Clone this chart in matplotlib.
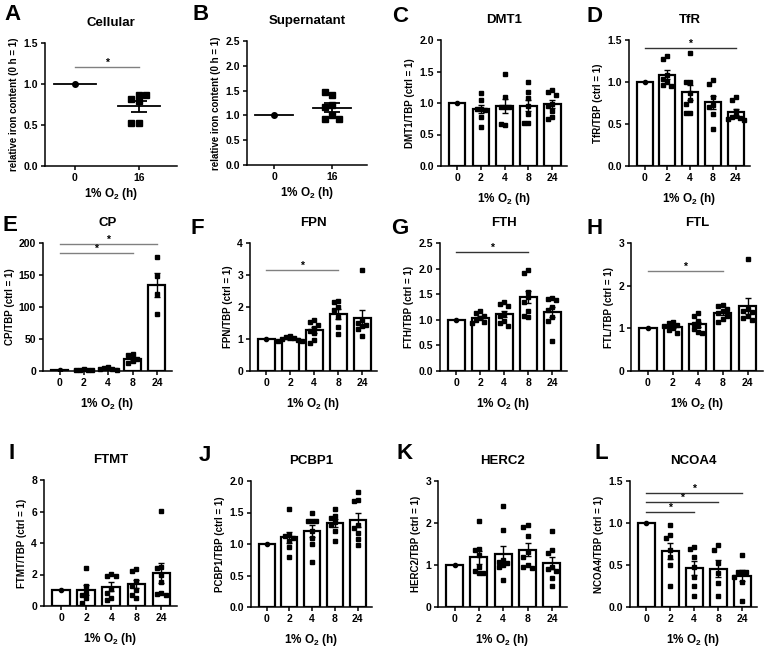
import numpy as np
import matplotlib.pyplot as plt

plt.rcParams['font.family'] = ['Liberation Sans', 'DejaVu Sans']
plt.rcParams['font.weight'] = 'bold'
plt.rcParams['axes.labelweight'] = 'bold'
plt.rcParams['axes.titleweight'] = 'bold'
plt.rcParams['mathtext.fontset'] = 'custom'
plt.rcParams['mathtext.bf'] = 'Liberation Sans:bold'
plt.rcParams['mathtext.rm'] = 'Liberation Sans:bold'

# ---- data ----
iron_hours = ['0', '16']
cellular = [[1.0], [0.86, 0.82, 0.79, 0.86, 0.52, 0.52]]
supernatant = [[1.0], [1.42, 1.47, 1.20, 1.16, 1.01, 0.92, 0.92]]

hours = ['0', '2', '4', '8', '24']
dmt1 = [[1.0], [1.16, 1.05, 0.91, 0.91, 0.89, 0.78, 0.62],
        [1.46, 1.10, 0.93, 0.93, 0.93, 0.65, 0.67],
        [1.33, 1.17, 1.08, 0.95, 0.83, 0.68, 0.68],
        [1.20, 1.18, 1.13, 0.98, 0.95, 0.88, 0.78, 0.74]]
tfr = [[1.0], [1.31, 1.27, 1.08, 1.04, 1.00, 0.97, 0.95],
       [1.35, 1.00, 1.00, 0.87, 0.78, 0.74, 0.63, 0.63],
       [1.02, 0.98, 0.82, 0.73, 0.70, 0.62, 0.44],
       [0.82, 0.79, 0.66, 0.60, 0.58, 0.57, 0.56, 0.55]]
cp = [[1.0], [2.5, 2.0, 1.5, 1.0, 0.8],
      [5.5, 4.5, 3.5, 2.5, 2.0],
      [26, 25, 19, 15, 12],
      [178, 149, 120, 89]]
fpn = [[1.0], [1.08, 1.05, 1.02, 1.00, 0.97, 0.95, 0.93],
       [1.58, 1.53, 1.45, 1.35, 1.25, 1.18, 0.97, 0.88],
       [2.20, 2.15, 2.00, 1.90, 1.70, 1.38, 1.15],
       [3.17, 1.60, 1.50, 1.45, 1.40, 1.30, 1.10]]
fth = [[1.0], [1.17, 1.13, 1.08, 1.03, 1.00, 0.95, 0.93],
       [1.35, 1.30, 1.27, 1.12, 1.08, 0.97, 0.93, 0.88],
       [1.98, 1.92, 1.55, 1.45, 1.35, 1.18, 1.08, 1.05],
       [1.42, 1.40, 1.38, 1.25, 1.20, 1.05, 0.97, 0.58]]
ftl = [[1.0], [1.15, 1.12, 1.08, 1.05, 1.00, 0.95, 0.88],
       [1.35, 1.28, 1.18, 1.10, 1.05, 0.98, 0.92, 0.90],
       [1.55, 1.52, 1.45, 1.40, 1.35, 1.30, 1.22, 1.15],
       [2.62, 1.45, 1.40, 1.38, 1.30, 1.25, 1.20]]
ftmt = [[1.0], [2.4, 1.3, 0.85, 0.7, 0.5, 0.2],
        [2.05, 1.9, 1.9, 1.1, 0.8, 0.5, 0.4],
        [2.35, 2.25, 1.6, 1.3, 1.0, 0.7, 0.5],
        [6.05, 2.45, 2.4, 2.0, 1.5, 0.85, 0.75, 0.7]]
pcbp1 = [[1.0], [1.56, 1.15, 1.12, 1.10, 1.05, 0.95, 0.80],
         [1.50, 1.37, 1.37, 1.37, 1.20, 1.10, 1.00, 0.71],
         [1.55, 1.45, 1.42, 1.35, 1.30, 1.20, 1.05],
         [1.82, 1.70, 1.68, 1.30, 1.25, 1.18, 1.08, 0.99]]
herc2 = [[1.0], [2.05, 1.38, 1.35, 1.25, 0.95, 0.85, 0.82, 0.80],
         [2.40, 1.83, 1.12, 1.08, 1.05, 1.00, 0.95, 0.65],
         [1.95, 1.90, 1.70, 1.30, 1.20, 1.00, 0.95, 0.93],
         [1.80, 1.35, 1.28, 0.95, 0.90, 0.85, 0.70, 0.50]]
ncoa4 = [[1.0], [0.98, 0.86, 0.82, 0.68, 0.60, 0.50, 0.25],
         [0.71, 0.69, 0.60, 0.48, 0.36, 0.25, 0.13],
         [0.74, 0.68, 0.52, 0.40, 0.28, 0.13],
         [0.62, 0.42, 0.42, 0.42, 0.36, 0.30, 0.075]]

W, H = 765, 648
fig = plt.figure(figsize=(W / 100, H / 100), dpi=100)


def box(l, r, t, b):
    return [l / W, 1 - b / H, (r - l) / W, (b - t) / H]


def swarm(values, yrange, step, gap=0.04):
    # simple deterministic beeswarm so squares don't sit on top of each other
    placed, xs = [], []
    for v in values:
        for dx in [0, -step, step, -2 * step, 2 * step, -3 * step, 3 * step]:
            if all(abs(dx - px) > 0.8 * step or abs(v - py) > gap * yrange for px, py in placed):
                break
        placed.append((dx, v))
        xs.append(dx)
    return np.array(xs)


def sem(g):
    return np.std(g, ddof=1) / np.sqrt(len(g)) if len(g) > 1 else 0.0


def style(ax, ymax, ystep, fmt):
    ax.spines['top'].set_visible(False)
    ax.spines['right'].set_visible(False)
    for s in ['left', 'bottom']:
        ax.spines[s].set_linewidth(1.1)
    ax.set_ylim(0, ymax)
    ticks = np.arange(0, ymax + ystep / 2, ystep)
    ax.set_yticks(ticks)
    ax.set_yticklabels([fmt % t for t in ticks])
    ax.tick_params(width=1.1, length=3, labelsize=7.5, pad=2)


def add_sig(ax, sigs, color, ymax):
    for i0, i1, y in sigs:
        ax.plot([i0, i1], [y, y], color=color, lw=1, clip_on=False)
        ax.text((i0 + i1) / 2, y - 0.005 * ymax, '*', ha='center', va='bottom', fontsize=7.5, color='black')


def letter(x, y, s):
    fig.text(x / W, 1 - y / H, s, fontsize=16, fontweight='bold', va='top', ha='left')


def bar_panel(pos, title, ylabel, groups, ymax, ystep, fmt='%.1f', sigs=(), sig_color='#808080'):
    ax = fig.add_axes(box(*pos))
    x = np.arange(len(groups))
    means = [np.mean(g) for g in groups]
    ax.bar(x, means, width=0.7, color='white', edgecolor='black', linewidth=1.6, zorder=1)
    for i, g in enumerate(groups):
        if len(g) == 1:
            ax.plot(i, g[0], 'o', ms=3, color='black', zorder=3)
        else:
            ax.errorbar(i, means[i], yerr=sem(g), color='black', lw=1, capsize=2.5, capthick=1, zorder=2)
            ax.plot(i + swarm(g, ymax, 0.17), g, 's', ms=3.4, color='black', zorder=3, clip_on=False)
    ax.set_xlim(-0.68, len(groups) - 0.38)
    ax.set_xticks(x)
    ax.set_xticklabels(hours)
    style(ax, ymax, ystep, fmt)
    add_sig(ax, sigs, sig_color, ymax)
    ax.set_title(title, fontsize=9.5, pad=12)
    ax.set_ylabel(ylabel, fontsize=7, labelpad=3)
    ax.set_xlabel(r'1% O$_\mathbf{2}$ (h)', fontsize=8.5, labelpad=6)
    return ax


def dot_panel(pos, title, groups, ymax, ystep, sigs=()):
    ax = fig.add_axes(box(*pos))
    for i, g in enumerate(groups):
        m = np.mean(g)
        ax.plot([i - 0.33, i + 0.33], [m, m], color='black', lw=1.3, zorder=2)
        if len(g) == 1:
            ax.plot(i, g[0], 'o', ms=4, color='black', zorder=3)
        else:
            s = sem(g)
            ax.errorbar(i, m, yerr=s, color='black', lw=1.3, capsize=6, capthick=1.3, zorder=2)
            ax.plot(i + swarm(g, ymax, 0.12), g, 's', ms=4.5, color='black', zorder=3)
    ax.set_xlim(-0.47, 1.6)
    ax.set_xticks([0, 1])
    ax.set_xticklabels(iron_hours)
    style(ax, ymax, ystep, '%.1f')
    add_sig(ax, sigs, '#808080', ymax)
    ax.set_title(title, fontsize=9.5, pad=12)
    ax.set_ylabel('relative iron content (0 h = 1)', fontsize=7, labelpad=3)
    ax.set_xlabel(r'1% O$_\mathbf{2}$ (h)', fontsize=8.5, labelpad=2)
    return ax


# row 1
dot_panel((45, 177, 43, 166), 'Cellular', cellular, 1.5, 0.5, sigs=[(0, 1, 1.21)])
dot_panel((247, 367, 41, 165), 'Supernatant', supernatant, 2.5, 0.5)
bar_panel((441, 567, 40, 166), 'DMT1', 'DMT1/TBP (ctrl = 1)', dmt1, 2.0, 0.5)
bar_panel((629, 750, 40, 166), 'TfR', 'TfR/TBP (ctrl = 1)', tfr, 1.5, 0.5,
          sigs=[(0, 4, 1.40)], sig_color='#333333')
# row 2
bar_panel((43, 172, 243, 371), 'CP', 'CP/TBP (ctrl = 1)', cp, 200, 50, fmt='%d',
          sigs=[(0, 4, 198), (0, 3, 184)])
bar_panel((250, 377, 243, 371), 'FPN', 'FPN/TBP (ctrl = 1)', fpn, 4, 1, fmt='%d',
          sigs=[(0, 3, 3.16)])
bar_panel((440, 567, 243, 371), 'FTH', 'FTH/TBP (ctrl = 1)', fth, 2.5, 0.5,
          sigs=[(0, 3, 2.32)], sig_color='#333333')
bar_panel((631, 763, 243, 371), 'FTL', 'FTL/TBP (ctrl = 1)', ftl, 3, 1, fmt='%d',
          sigs=[(0, 3, 2.35)])
# row 3
bar_panel((44, 177, 480, 606), 'FTMT', 'FTMT/TBP (ctrl = 1)', ftmt, 8, 2, fmt='%d')
bar_panel((251, 372, 481, 607), 'PCBP1', 'PCBP1/TBP (ctrl = 1)', pcbp1, 2.0, 0.5)
bar_panel((438, 567, 481, 607), 'HERC2', 'HERC2/TBP (ctrl = 1)', herc2, 3, 1, fmt='%d')
bar_panel((630, 757, 481, 607), 'NCOA4', 'NCOA4/TBP (ctrl = 1)', ncoa4, 1.5, 0.5,
          sigs=[(0, 4, 1.36), (0, 3, 1.25), (0, 2, 1.13)], sig_color='#333333')

for x, y, s in [(4, 4, 'A'), (192, 4, 'B'), (392, 6, 'C'), (587, 6, 'D'),
                (3, 215, 'E'), (191, 218, 'F'), (391, 218, 'G'), (587, 218, 'H'),
                (8, 443, 'I'), (199, 445, 'J'), (396, 443, 'K'), (594, 443, 'L')]:
    letter(x, y, s)

fig.savefig('out.png', dpi=100)
